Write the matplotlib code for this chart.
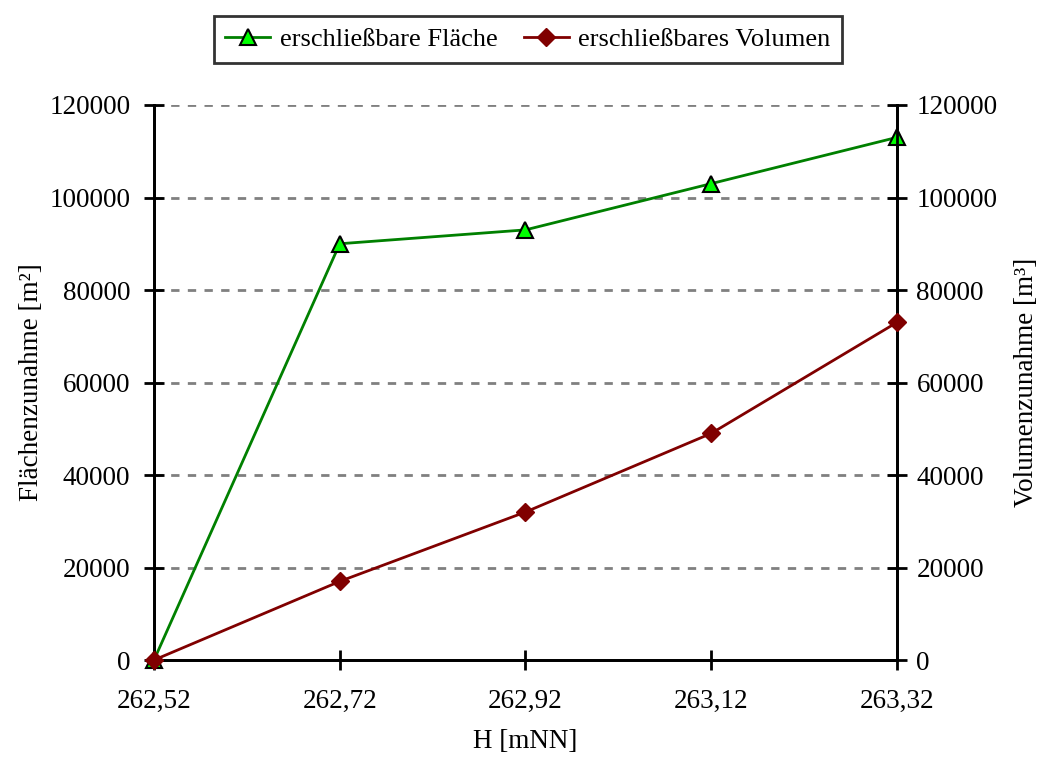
import numpy as np
import matplotlib.pyplot as plt

plt.rcParams['font.family'] = ['Liberation Serif', 'DejaVu Serif']
plt.rcParams['font.size'] = 19.5

# Daten
hoehe = [262.52, 262.72, 262.92, 263.12, 263.32]
hoehe_labels = ['262,52', '262,72', '262,92', '263,12', '263,32']
flaeche = [0, 90000, 93000, 103000, 113000]
volumen = [0, 17000, 32000, 49000, 73000]
y_ticks = [0, 20000, 40000, 60000, 80000, 100000, 120000]

fig = plt.figure(figsize=(10.42, 7.57), dpi=100)
ax = fig.add_axes([0.1478, 0.1281, 0.713, 0.7332])
ax2 = ax.twinx()

# Gitterlinien
for yt in y_ticks[1:]:
    ax.axhline(yt, color='#808080', linestyle=(0, (3, 3)), linewidth=2, zorder=0)

l1, = ax.plot(hoehe, flaeche, color='#008000', linewidth=2, marker='^',
              markersize=11, markerfacecolor='#00ff00', markeredgecolor='black',
              markeredgewidth=1.5, clip_on=False, zorder=5,
              label='erschließbare Fläche')
l2, = ax2.plot(hoehe, volumen, color='#800000', linewidth=2, marker='D',
               markersize=9, markerfacecolor='#800000', markeredgecolor='#800000',
               clip_on=False, zorder=5, label='erschließbares Volumen')

for a in (ax, ax2):
    a.set_xlim(262.52, 263.32)
    a.set_ylim(0, 120000)
    a.set_yticks(y_ticks)
    a.set_yticklabels([str(v) for v in y_ticks])
    a.spines['top'].set_visible(False)
    for s in a.spines.values():
        s.set_linewidth(2)
    a.tick_params(direction='inout', length=14, width=2, labelsize=19.5)
    a.set_facecolor('none')

ax.set_xticks(hoehe)
ax.set_xticklabels(hoehe_labels)
ax.tick_params(axis='x', pad=14)
ax.tick_params(axis='y', pad=10)
ax2.tick_params(axis='y', pad=7)

ax.set_xlabel('H [mNN]', labelpad=11)
ax.set_ylabel('Flächenzunahme [m²]', labelpad=4)
ax2.set_ylabel('Volumenzunahme [m³]', labelpad=12)

leg = ax.legend(handles=[l1, l2], loc='upper center', bbox_to_anchor=(0.503, 1.185),
                ncol=2, frameon=True, fancybox=False, edgecolor='black',
                handlelength=1.7, handletextpad=0.35, columnspacing=1.0,
                borderpad=0.45, fontsize=19)
leg.get_frame().set_linewidth(2)

fig.savefig('out.png', dpi=100)
